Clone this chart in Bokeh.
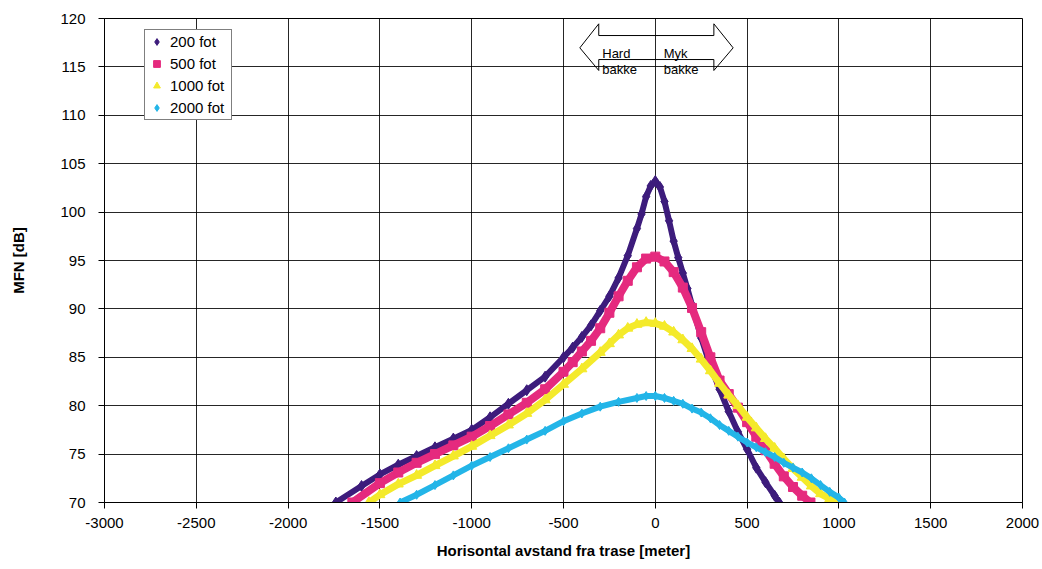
from bokeh.plotting import figure
from bokeh.models import FixedTicker, Legend, LegendItem, Range1d, PrintfTickFormatter
from bokeh.core.properties import value
from bokeh.embed import file_html
from bokeh.resources import INLINE

FONT = "Liberation Sans"

# ---- data ----
series_names = ["200 fot", "500 fot", "1000 fot", "2000 fot"]

x200 = [-1740, -1600, -1500, -1400, -1300, -1200, -1100, -1000, -900, -800, -700, -600,
        -500, -450, -400, -350, -300, -250, -200, -150, -100, -75, -50, -25, 0,
        25, 50, 75, 100, 125, 150, 175, 200, 250, 300, 350, 400, 450, 500, 550, 600, 650, 675]
y200 = [70.0, 71.7, 72.9, 73.9, 74.8, 75.7, 76.6, 77.5, 78.8, 80.2, 81.6, 83.0,
        85.0, 86.0, 87.1, 88.3, 89.8, 91.3, 93.2, 95.5, 98.3, 99.8, 101.6, 102.7, 103.2,
        102.6, 101.1, 99.1, 97.0, 95.3, 93.7, 92.1, 90.4, 87.0, 84.1, 81.7, 79.4, 77.3, 75.5, 73.6, 72.1, 70.7, 70.0]

x500 = [-1650, -1500, -1400, -1300, -1200, -1100, -1000, -900, -800, -700, -600, -500,
        -450, -400, -350, -300, -250, -200, -150, -100, -50, 0, 50, 100, 150, 200, 250,
        300, 350, 400, 450, 500, 550, 600, 650, 700, 750, 800, 845]
y500 = [70.0, 72.0, 73.1, 74.1, 75.0, 75.9, 76.8, 77.9, 79.1, 80.3, 81.7, 83.5,
        84.5, 85.6, 86.7, 88.0, 89.6, 91.3, 92.9, 94.3, 95.2, 95.4, 94.9, 93.8, 92.2, 90.1, 87.6,
        85.0, 82.6, 81.2, 79.8, 78.3, 76.8, 75.4, 74.0, 72.7, 71.6, 70.7, 70.0]

x1000 = [-1560, -1500, -1400, -1300, -1200, -1100, -1000, -900, -800, -700, -600, -500,
         -400, -300, -250, -200, -150, -100, -50, 0, 50, 100, 150, 200, 250, 300, 350,
         400, 450, 500, 550, 600, 650, 700, 750, 800, 850, 900, 950, 1000]
y1000 = [70.0, 70.8, 71.9, 72.8, 73.8, 74.8, 75.8, 76.9, 78.0, 79.2, 80.6, 82.2,
         83.8, 85.5, 86.4, 87.3, 88.0, 88.4, 88.6, 88.5, 88.2, 87.6, 86.8, 85.9, 84.8, 83.6, 82.3,
         81.1, 80.0, 78.8, 77.7, 76.6, 75.6, 74.5, 73.5, 72.6, 71.7, 70.9, 70.4, 70.0]

x2000 = [-1390, -1300, -1200, -1100, -1000, -900, -800, -700, -600, -500, -400, -300,
         -200, -100, -50, 0, 50, 100, 150, 200, 250, 300, 350, 400, 450, 500, 550, 600,
         650, 700, 750, 800, 850, 900, 950, 1000, 1030]
y2000 = [70.0, 70.8, 71.8, 72.8, 73.8, 74.7, 75.6, 76.5, 77.4, 78.4, 79.2, 79.9,
         80.4, 80.8, 81.0, 81.0, 80.8, 80.5, 80.2, 79.7, 79.3, 78.7, 78.0, 77.4, 76.8, 76.2, 75.7, 75.2,
         74.7, 74.1, 73.6, 73.1, 72.5, 71.8, 71.1, 70.5, 70.0]

x_ticks = [-3000, -2500, -2000, -1500, -1000, -500, 0, 500, 1000, 1500, 2000]
y_ticks = [70, 75, 80, 85, 90, 95, 100, 105, 110, 115, 120]

colors = ["#3D1C7C", "#E52A7E", "#F4EA2B", "#23B5E8"]
markers = ["diamond", "square", "triangle", "diamond"]
marker_sizes = [11, 9, 10, 9]
line_widths = [6, 8, 7, 6]

# ---- figure ----
p = figure(width=1042, height=569, output_backend="svg", toolbar_location=None,
           title=None,
           x_range=Range1d(-3000, 2000), y_range=Range1d(70, 120),
           min_border_left=104, min_border_right=20, min_border_top=18, min_border_bottom=67)
p.background_fill_color = "white"
p.border_fill_color = "white"
p.outline_line_color = "black"
p.outline_line_width = 1

for ax, ticks in ((p.xaxis, x_ticks), (p.yaxis, y_ticks)):
    ax.ticker = FixedTicker(ticks=ticks)
    ax.formatter = PrintfTickFormatter(format="%d")
    ax.major_tick_out = 6
    ax.major_tick_in = 0
    ax.minor_tick_out = 0
    ax.minor_tick_in = 0
    ax.axis_line_color = "black"
    ax.major_tick_line_color = "black"
    ax.major_label_text_font = FONT
    ax.major_label_text_font_size = "15px"
    ax.major_label_text_color = "black"
    ax.axis_label_text_font = FONT
    ax.axis_label_text_font_size = "15px"
    ax.axis_label_text_font_style = "bold"
    ax.axis_label_text_color = "black"

p.xaxis.axis_label = "Horisontal avstand fra trase [meter]"
p.yaxis.axis_label = "MFN [dB]"
p.xaxis.major_label_standoff = 9
p.xaxis.axis_label_standoff = 11
p.yaxis.major_label_standoff = 13
p.yaxis.axis_label_standoff = 30

p.xgrid.ticker = FixedTicker(ticks=x_ticks)
p.ygrid.ticker = FixedTicker(ticks=y_ticks)
for g in (p.xgrid, p.ygrid):
    g.grid_line_color = "#000000"
    g.grid_line_alpha = 0.85
    g.grid_line_width = 1

# ---- series ----
xs_all = [x200, x500, x1000, x2000]
ys_all = [y200, y500, y1000, y2000]
items = []
for name, xs, ys, c, m, ms, lw in zip(series_names, xs_all, ys_all, colors, markers, marker_sizes, line_widths):
    p.line(xs, ys, line_color=c, line_width=lw)
    r = p.scatter(xs, ys, marker=m, size=ms, fill_color=c, line_color=c)
    items.append(LegendItem(label=name, renderers=[r]))

# ---- arrow annotation (Hard bakke / Myk bakke) ----
arrow_x = [-411, -308, -308, 319, 319, 424, 319, 319, -308, -308, -411]
arrow_y = [116.97, 119.45, 118.24, 118.24, 119.45, 116.97, 114.63, 115.76, 115.76, 114.63, 116.97]
p.patch(arrow_x, arrow_y, fill_alpha=0, line_color="black", line_width=1)
p.text(x=[-289, -289, 46, 46], y=[116.42, 114.78, 116.42, 114.78],
       text=["Hard", "bakke", "Myk", "bakke"],
       text_font=value(FONT), text_font_size="13px", text_color="black",
       text_baseline="alphabetic", text_align="left")

# ---- legend ----
legend = Legend(items=items, location=(40, 382))
legend.label_text_font = FONT
legend.label_text_font_size = "15px"
legend.label_text_color = "black"
legend.glyph_width = 17
legend.glyph_height = 17
legend.label_height = 17
legend.label_width = 58
legend.label_standoff = 5
legend.spacing = 5
legend.padding = 3
legend.margin = 0
legend.border_line_color = "black"
legend.border_line_width = 1
legend.background_fill_color = "white"
legend.background_fill_alpha = 1
p.add_layout(legend, "center")

open("out.html", "w").write(file_html(p, INLINE))
